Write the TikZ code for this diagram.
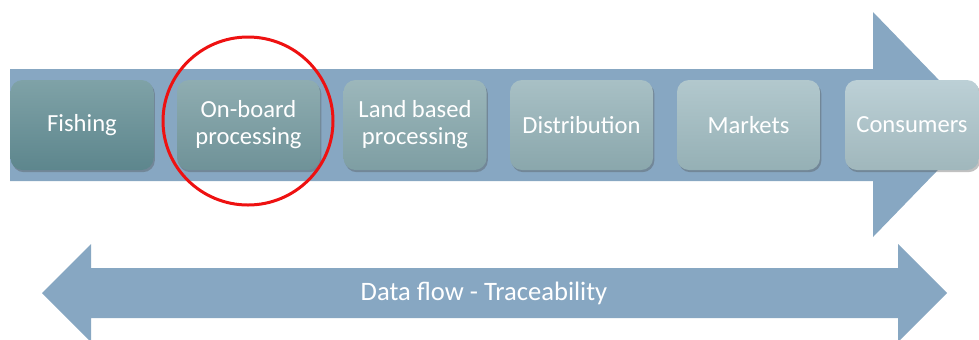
\documentclass[tikz,border=0pt]{standalone}
\usepackage{fontspec}
\setmainfont{Carlito}
\usetikzlibrary{shadows}
\definecolor{arrowblue}{HTML}{87A7C2}
\definecolor{ringred}{HTML}{EE1111}
\tikzset{
  stage/.style={rounded corners=6pt, minimum width=71.5pt, minimum height=45pt,
    inner sep=1pt, text=white, align=center, font=\fontsize{12.3}{13.5}\selectfont,
    drop shadow={shadow xshift=0.7pt, shadow yshift=-1.1pt, opacity=0.35, fill=black!70}},
  flowarrow/.style={fill=arrowblue, draw=none},
  ring/.style={draw=ringred, line width=1.5pt},
  flowtext/.style={text=white, font=\fontsize{13.3}{14.5}\selectfont}
}
\begin{document}
\begin{tikzpicture}[x=0.5pt, y=-0.5pt]
\useasboundingbox (0,0) rectangle (979,339);
\clip (0,0) rectangle (979,339);
% main process arrow
\path[flowarrow] (10,69) -- (873,69) -- (873,12) -- (982,124.5) -- (873,237) -- (873,181) -- (10,181) -- cycle;
% stages
\node[stage, top color={rgb,255:red,127;green,162;blue,167}, bottom color={rgb,255:red,93;green,134;blue,141}] (fish) at (82,125) {Fishing};
\node[stage, top color={rgb,255:red,143;green,173;blue,177}, bottom color={rgb,255:red,111;green,146;blue,152}] (onboard) at (248.5,125) {On-board\\processing};
\node[stage, top color={rgb,255:red,156;green,183;blue,187}, bottom color={rgb,255:red,126;green,158;blue,163}] (land) at (415,125) {Land based\\processing};
\node[stage, top color={rgb,255:red,168;green,192;blue,197}, bottom color={rgb,255:red,138;green,167;blue,172}] (dist) at (581.5,125) {Distribution};
\node[stage, top color={rgb,255:red,178;green,200;blue,205}, bottom color={rgb,255:red,149;green,176;blue,181}] (mark) at (748.5,125) {Markets};
\node[stage, minimum width=67pt, top color={rgb,255:red,188;green,208;blue,214}, bottom color={rgb,255:red,160;green,183;blue,188}] (cons) at (912,125) {Consumers};
% highlight ring
\draw[ring] (248,121) ellipse [x radius=85, y radius=84];
% data flow double arrow
\path[flowarrow] (42,293) -- (91,244) -- (91,268) -- (898,268) -- (898,244) -- (947,293) -- (898,342) -- (898,318) -- (91,318) -- (91,342) -- cycle;
\node[flowtext] (data) at (484,293) {Data flow - Traceability};
\end{tikzpicture}
\end{document}
